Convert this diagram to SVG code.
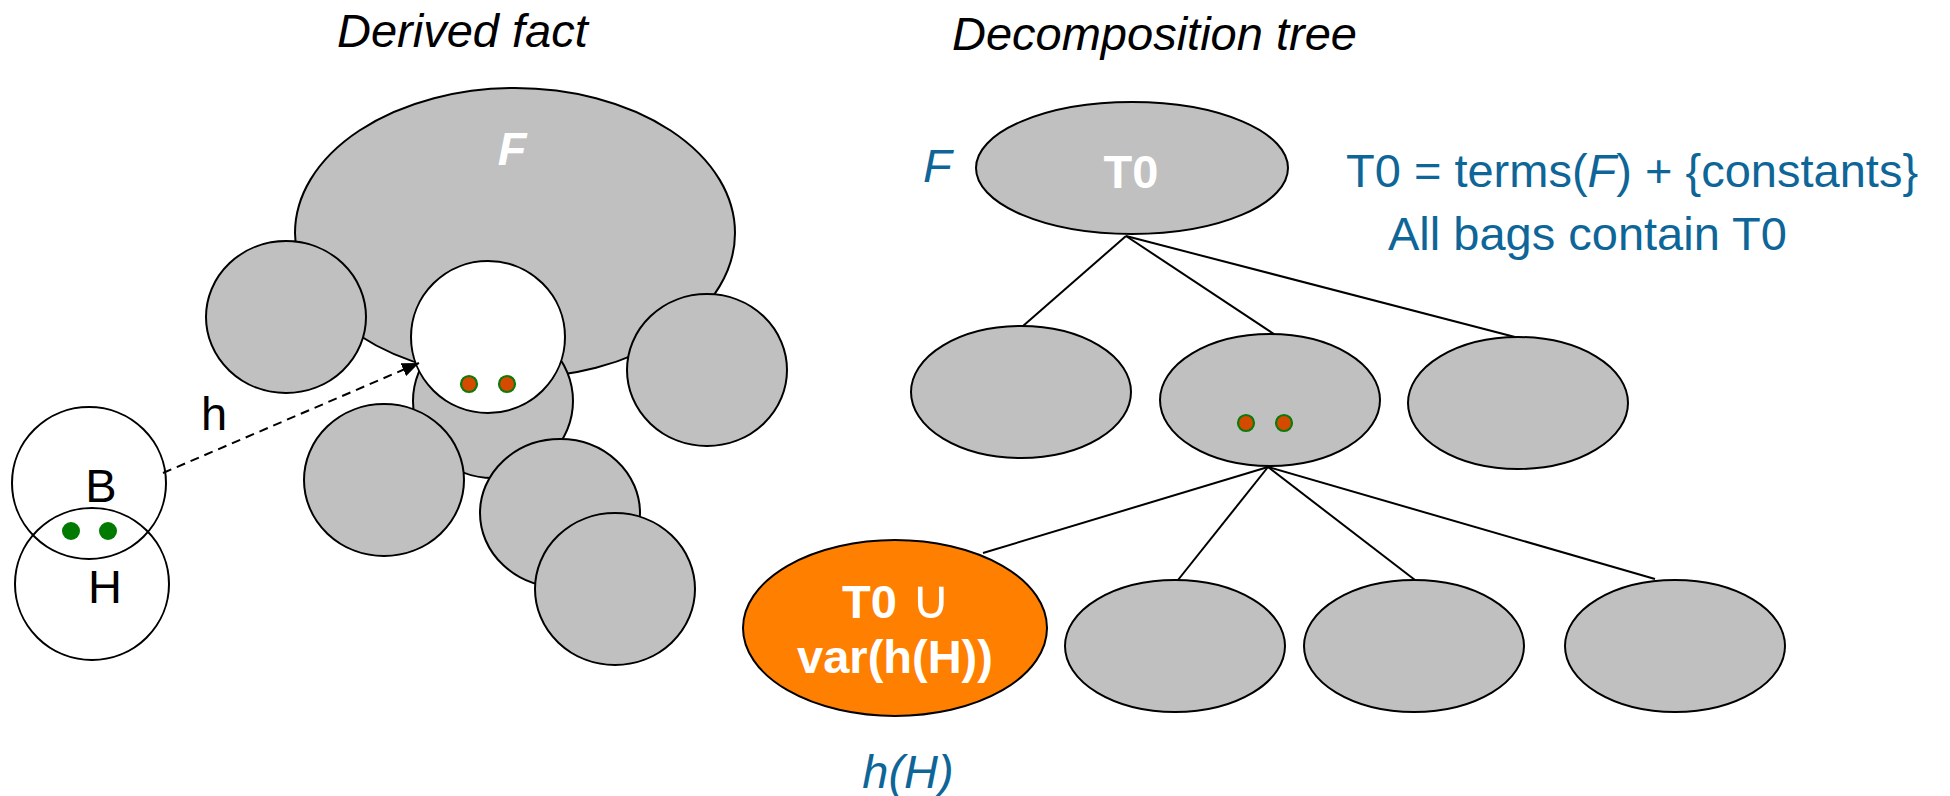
<svg xmlns="http://www.w3.org/2000/svg" width="1950" height="796" viewBox="0 0 1950 796">
  <defs>
    <style>
      .bag { fill: #C0C0C0; stroke: #000; stroke-width: 2; }
      .hole { fill: #FFFFFF; stroke: #000; stroke-width: 2; }
      .ring { fill: none; stroke: #000; stroke-width: 2; }
      .hot { fill: #FF7F00; stroke: #000; stroke-width: 2; }
      .term { fill: #D64A00; stroke: #0A7A0A; stroke-width: 2.2; }
      .var { fill: #007A00; stroke: none; }
      .edge { stroke: #000; stroke-width: 2; fill: none; }
      .map { stroke: #000; stroke-width: 2; fill: none; stroke-dasharray: 9 6; }
      text { font-family: "Liberation Sans", Arial, sans-serif; font-size: 47px; }
      .title { font-style: italic; fill: #000; }
      .plain { fill: #000; }
      .note { fill: #0E6698; }
      .white-b { fill: #FFFFFF; font-weight: bold; }
      .union { fill: #FFFFFF; font-family: "DejaVu Sans", sans-serif; font-weight: normal; font-size: 54px; }
    </style>
    <marker id="arrowhead" viewBox="0 0 17 14" refX="17" refY="7" markerWidth="17" markerHeight="14" markerUnits="userSpaceOnUse" orient="auto">
      <path d="M0,0 L17,7 L0,14 z" fill="#000"/>
    </marker>
  </defs>

  <!-- Headings -->
  <text class="title" x="337" y="47">Derived fact</text>
  <text class="title" x="952" y="50">Decomposition tree</text>

  <!-- Derived fact: the fact F with its surrounding bags -->
  <g id="fact-F">
    <ellipse class="bag" cx="515" cy="233" rx="220" ry="145"/>
    <text class="white-b" x="512" y="165" text-anchor="middle" font-style="italic">F</text>
  </g>
  <g id="fact-center">
    <ellipse class="bag" cx="493" cy="401" rx="80" ry="77"/>
  </g>
  <g id="fact-upper-left">
    <ellipse class="bag" cx="286" cy="317" rx="80" ry="76"/>
  </g>
  <g id="fact-right">
    <ellipse class="bag" cx="707" cy="370" rx="80" ry="76"/>
  </g>
  <g id="fact-lower-left">
    <ellipse class="bag" cx="384" cy="480" rx="80" ry="76"/>
  </g>
  <g id="fact-lower-mid">
    <ellipse class="bag" cx="560" cy="513" rx="80" ry="74"/>
  </g>
  <g id="fact-bottom">
    <ellipse class="bag" cx="615" cy="589" rx="80" ry="76"/>
  </g>
  <g id="fact-image">
    <ellipse class="hole" cx="488" cy="337" rx="77" ry="76"/>
    <circle class="term" cx="469" cy="384" r="8"/>
    <circle class="term" cx="507" cy="384" r="8"/>
  </g>

  <!-- Rule body B and head H -->
  <g id="rule-B">
    <ellipse class="ring" cx="89" cy="483" rx="77" ry="76"/>
    <text class="plain" x="101" y="502" text-anchor="middle">B</text>
  </g>
  <g id="rule-H">
    <ellipse class="ring" cx="92" cy="584" rx="77" ry="76"/>
    <text class="plain" x="105" y="603" text-anchor="middle">H</text>
  </g>
  <g id="shared-vars">
    <ellipse class="var" cx="71" cy="531" rx="9" ry="9"/>
    <ellipse class="var" cx="108" cy="531" rx="9" ry="9"/>
  </g>

  <!-- Decomposition tree bags -->
  <g id="bag-root">
    <ellipse class="bag" cx="1132" cy="168" rx="156" ry="66"/>
    <text class="white-b" x="1131" y="188" text-anchor="middle">T0</text>
  </g>
  <g id="bag-1">
    <ellipse class="bag" cx="1021" cy="392" rx="110" ry="66"/>
  </g>
  <g id="bag-2">
    <ellipse class="bag" cx="1270" cy="400" rx="110" ry="66"/>
    <circle class="term" cx="1246" cy="423" r="8"/>
    <circle class="term" cx="1284" cy="423" r="8"/>
  </g>
  <g id="bag-3">
    <ellipse class="bag" cx="1518" cy="403" rx="110" ry="66"/>
  </g>
  <g id="bag-head">
    <ellipse class="hot" cx="895" cy="628" rx="152" ry="88"/>
    <text class="white-b" x="842" y="618">T0</text>
    <text class="union" x="911" y="618">∪</text>
    <text class="white-b" x="895" y="673" text-anchor="middle">var(h(H))</text>
  </g>
  <g id="bag-2-2">
    <ellipse class="bag" cx="1175" cy="646" rx="110" ry="66"/>
  </g>
  <g id="bag-2-3">
    <ellipse class="bag" cx="1414" cy="646" rx="110" ry="66"/>
  </g>
  <g id="bag-2-4">
    <ellipse class="bag" cx="1675" cy="646" rx="110" ry="66"/>
  </g>

  <!-- Annotations -->
  <text class="note" x="923" y="182" font-style="italic">F</text>
  <text class="note" x="1346" y="187">T0 = terms(<tspan font-style="italic">F</tspan>) + {constants}</text>
  <text class="note" x="1388" y="250">All bags contain T0</text>
  <text class="note" x="908" y="788" text-anchor="middle" font-style="italic">h(H)</text>
  <text class="plain" x="214" y="430" text-anchor="middle" font-size="44">h</text>

  <!-- Connectors -->
  <g id="connectors">
    <line class="map" x1="163" y1="473" x2="419" y2="363" marker-end="url(#arrowhead)"/>
    <line class="edge" x1="1126" y1="236" x2="1023" y2="326"/>
    <line class="edge" x1="1126" y1="236" x2="1274" y2="334"/>
    <line class="edge" x1="1126" y1="236" x2="1515" y2="337"/>
    <line class="edge" x1="1268" y1="467" x2="983" y2="553"/>
    <line class="edge" x1="1268" y1="467" x2="1178" y2="580"/>
    <line class="edge" x1="1268" y1="467" x2="1415" y2="580"/>
    <line class="edge" x1="1268" y1="467" x2="1655" y2="579"/>
  </g>
</svg>
